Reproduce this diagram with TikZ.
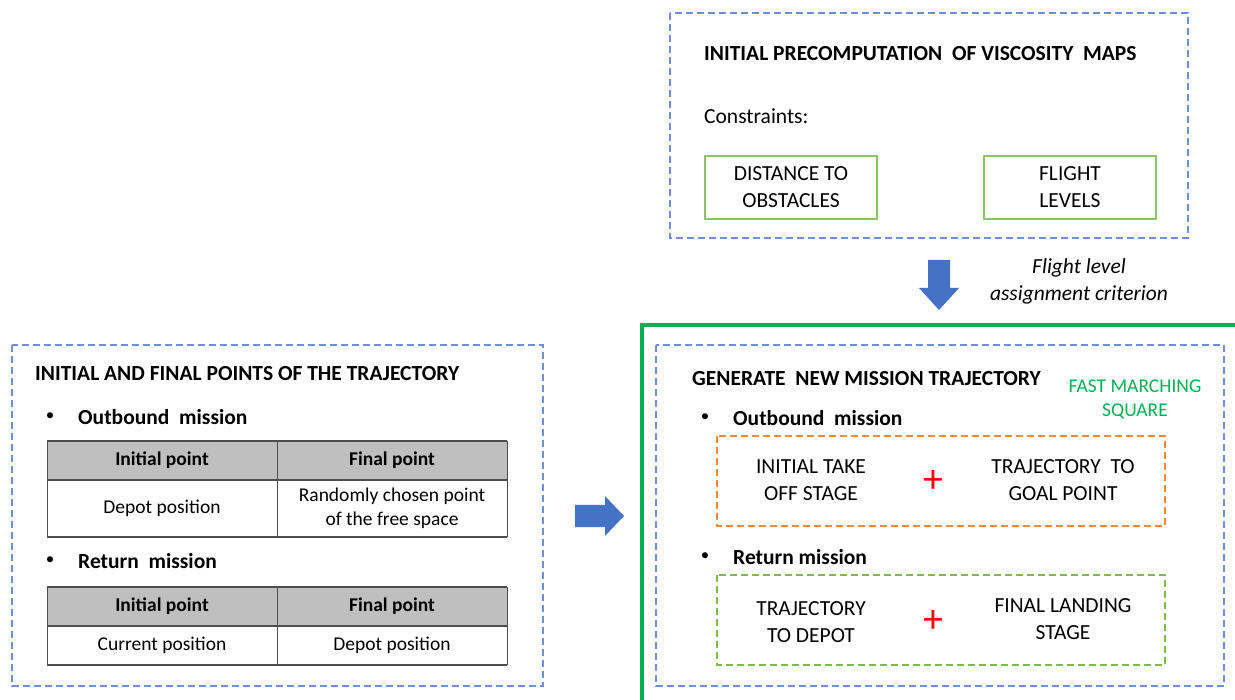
\documentclass[tikz,border=0pt]{standalone}
\usepackage{fontspec}
\setmainfont{Carlito}
\usetikzlibrary{positioning,calc}
\definecolor{dashblue}{HTML}{6E8FD6}
\definecolor{boxgreen}{HTML}{8CC26B}
\definecolor{thickgreen}{HTML}{00B050}
\definecolor{dashorange}{HTML}{F08A3C}
\definecolor{dashgreen}{HTML}{7DBB4F}
\definecolor{arrowblue}{HTML}{4472C4}
\definecolor{headgrey}{HTML}{BFBFBF}
\definecolor{rulegrey}{HTML}{4D4D4D}
\newcommand{\bodysize}{\fontsize{21.5}{27}\selectfont}
\newcommand{\tablesize}{\fontsize{19.5}{24}\selectfont}
\tikzset{
  txt/.style={font=\bodysize, inner sep=0pt},
  ttl/.style={txt, font=\bodysize\bfseries, anchor=west},
  bul/.style={txt, font=\fontsize{17}{17}\selectfont},
  panel/.style={draw=dashblue, line width=1.1pt, dash pattern=on 7pt off 4pt},
  cbox/.style={draw=boxgreen, line width=1.1pt},
  obox/.style={draw=dashorange, line width=1.1pt, dash pattern=on 7pt off 4pt},
  gbox/.style={draw=dashgreen, line width=1.1pt, dash pattern=on 7pt off 4pt},
  cell/.style={txt, align=center},
  tcell/.style={txt, font=\tablesize, align=center},
  hcell/.style={txt, font=\tablesize\bfseries},
  plus/.style={txt, text=red, font=\fontsize{40}{40}\selectfont},
  blockarrow/.style={fill=arrowblue, draw=none},
}
\begin{document}
\begin{tikzpicture}[x=1pt, y=-1pt]
\useasboundingbox (0,0) rectangle (1235,700);

% ---------- viscosity maps panel ----------
\draw[panel] (670,13) rectangle (1188,238);
\node[ttl] (vtitle) at (704,54) {INITIAL PRECOMPUTATION\ \ OF VISCOSITY\ \ MAPS};
\node[txt, anchor=west] (constr) at (704,116) {Constraints:};
\draw[cbox] (705,156) rectangle (877,219);
\node[cell] (dist) at (791,187.5) {DISTANCE TO\\OBSTACLES};
\draw[cbox] (984,156) rectangle (1156,219);
\node[cell] (levels) at (1070,187.5) {FLIGHT\\LEVELS};

% ---------- down block arrow ----------
\coordinate (dtop) at (939,260);
\coordinate (dtip) at (939,310);
\fill[blockarrow] ($(dtop)+(-11,0)$) -- ($(dtop)+(11,0)$) -- ($(dtop)+(11,28)$)
  -- ($(dtop)+(20,28)$) -- (dtip) -- ($(dtop)+(-20,28)$) -- ($(dtop)+(-11,28)$) -- cycle;
\node[txt, align=center, font=\bodysize\itshape] (crit) at (1079,281.5)
  {Flight level\\assignment criterion};

% ---------- initial / final points panel ----------
\draw[panel] (12,345) rectangle (543,686);
\node[ttl] (ltitle) at (35,374) {INITIAL AND FINAL POINTS OF THE TRAJECTORY};
\node[bul] (lb1) at (50,417) {\textbullet};
\node[ttl] (lout) at (78,417) {Outbound\ \ mission};

% outbound table
\fill[headgrey] (47,441) rectangle (507,480);
\draw[rulegrey, line width=1.3pt] (47,441) -- (507,441);
\draw[rulegrey, line width=1.3pt] (47,480) -- (507,480);
\draw[rulegrey, line width=1.6pt] (47,537) -- (507,537);
\draw[rulegrey, line width=1pt] (47,441) -- (47,537);
\draw[rulegrey, line width=1pt] (277,441) -- (277,537);
\draw[rulegrey, line width=1pt] (507,441) -- (507,537);
\node[hcell] (t1h1) at (162,460.5) {Initial point};
\node[hcell] (t1h2) at (392,460.5) {Final point};
\node[tcell] (t1c1) at (162,508) {Depot position};
\node[tcell] (t1c2) at (392,508) {Randomly chosen point\\of the free space};

\node[bul] (lb2) at (50,561) {\textbullet};
\node[ttl] (lret) at (78,561) {Return\ \ mission};

% return table
\fill[headgrey] (47,587) rectangle (507,626);
\draw[rulegrey, line width=1.3pt] (47,587) -- (507,587);
\draw[rulegrey, line width=1.3pt] (47,626) -- (507,626);
\draw[rulegrey, line width=1.6pt] (47,665) -- (507,665);
\draw[rulegrey, line width=1pt] (47,587) -- (47,665);
\draw[rulegrey, line width=1pt] (277,587) -- (277,665);
\draw[rulegrey, line width=1pt] (507,587) -- (507,665);
\node[hcell] (t2h1) at (162,606.5) {Initial point};
\node[hcell] (t2h2) at (392,606.5) {Final point};
\node[tcell] (t2c1) at (162,645.5) {Current position};
\node[tcell] (t2c2) at (392,645.5) {Depot position};

% ---------- right block arrow ----------
\coordinate (rtail) at (575,516);
\coordinate (rtip) at (624,516);
\fill[blockarrow] ($(rtail)+(0,-11)$) -- ($(rtail)+(30,-11)$) -- ($(rtail)+(30,-20)$)
  -- (rtip) -- ($(rtail)+(30,20)$) -- ($(rtail)+(30,11)$) -- ($(rtail)+(0,11)$) -- cycle;

% ---------- mission trajectory panel ----------
\draw[thickgreen, line width=4.5pt] (1240,325) -- (642,325) -- (642,705);
\draw[panel] (656,345) rectangle (1224,686);
\node[ttl] (rtitle) at (692,379) {GENERATE\ \ NEW MISSION TRAJECTORY};
\node[tcell, text=thickgreen] (fms) at (1135,399.5) {FAST MARCHING\\SQUARE};

\node[bul] (rb1) at (705,418) {\textbullet};
\node[ttl] (rout) at (733,418) {Outbound\ \ mission};
\draw[obox] (717,436) rectangle (1165,526);
\node[cell] (takeoff) at (811,480.5) {INITIAL TAKE\\OFF STAGE};
\node[plus] (plus1) at (933,482) {+};
\node[cell] (goal) at (1063,480.5) {TRAJECTORY\ \ TO\\GOAL POINT};

\node[bul] (rb2) at (705,557) {\textbullet};
\node[ttl] (rret) at (733,557) {Return mission};
\draw[gbox] (717,575) rectangle (1165,665);
\node[cell] (todepot) at (811,622.5) {TRAJECTORY\\TO DEPOT};
\node[plus] (plus2) at (933,622) {+};
\node[cell] (landing) at (1063,619.5) {FINAL LANDING\\STAGE};
\end{tikzpicture}
\end{document}
